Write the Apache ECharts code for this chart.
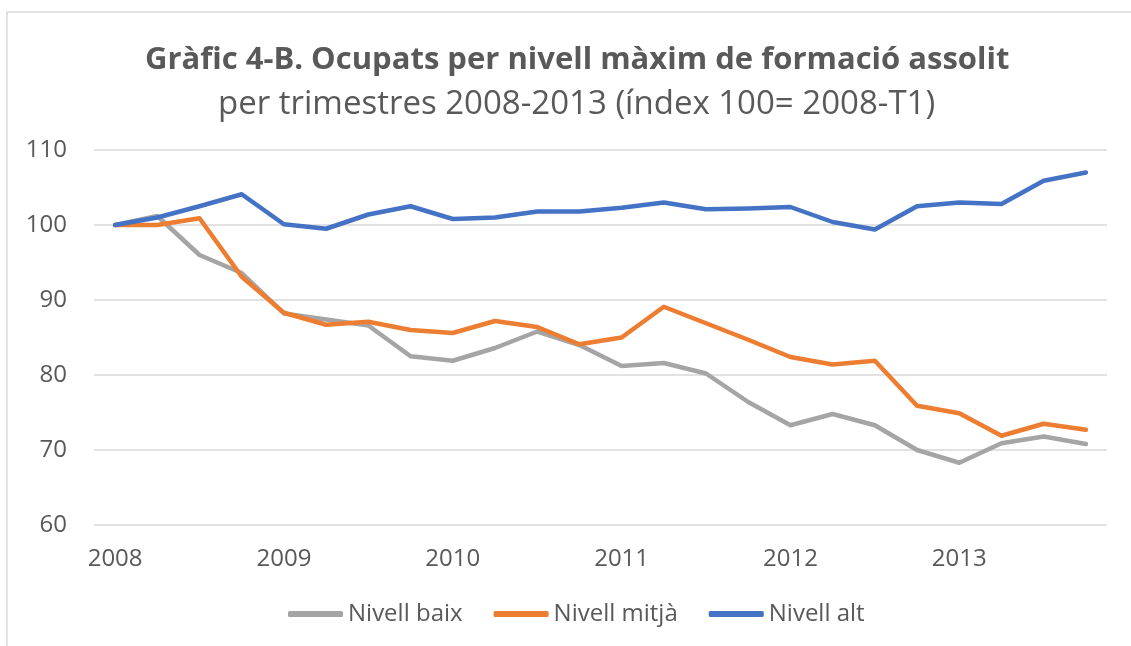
<!DOCTYPE html>
<html>
<head>
<meta charset="utf-8">
<script src="https://cdn.jsdelivr.net/npm/echarts@6/dist/echarts.min.js"></script>
<style>
  html, body { margin: 0; padding: 0; background: #fff; }
  #chart { width: 1131px; height: 646px; }
</style>
</head>
<body>
<div id="chart"></div>
<script>
const quarters = [
  '2008-T1', '2008-T2', '2008-T3', '2008-T4',
  '2009-T1', '2009-T2', '2009-T3', '2009-T4',
  '2010-T1', '2010-T2', '2010-T3', '2010-T4',
  '2011-T1', '2011-T2', '2011-T3', '2011-T4',
  '2012-T1', '2012-T2', '2012-T3', '2012-T4',
  '2013-T1', '2013-T2', '2013-T3', '2013-T4'
];

const nivellBaix = [
  100, 101.2, 96.0, 93.6, 88.2, 87.4, 86.6, 82.5,
  81.9, 83.6, 85.8, 84.0, 81.2, 81.6, 80.2, 76.4,
  73.3, 74.8, 73.3, 70.0, 68.3, 70.9, 71.8, 70.8
];

const nivellMitja = [
  100, 100.0, 100.9, 93.1, 88.3, 86.7, 87.1, 86.0,
  85.6, 87.2, 86.4, 84.1, 85.0, 89.1, 86.9, 84.7,
  82.4, 81.4, 81.9, 75.9, 74.9, 71.9, 73.5, 72.7
];

const nivellAlt = [
  100, 101.0, 102.5, 104.1, 100.1, 99.5, 101.4, 102.5,
  100.8, 101.0, 101.8, 101.8, 102.3, 103.0, 102.1, 102.2,
  102.4, 100.4, 99.4, 102.5, 103.0, 102.8, 105.9, 107.0
];

const yTicks = [60, 70, 80, 90, 100, 110];

const colors = {
  baix: '#a5a5a5',
  mitja: '#ed7d31',
  alt: '#4472c4'
};

const font = '"Open Sans", "Noto Sans", sans-serif';
const textColor = '#595959';

const chart = echarts.init(document.getElementById('chart'));

const lineSeries = (name, data, color) => ({
  name: name,
  type: 'line',
  data: data,
  symbol: 'none',
  smooth: false,
  lineStyle: { color: color, width: 4.5, cap: 'round', join: 'round' },
  itemStyle: { color: color }
});

const option = {
  animation: false,
  backgroundColor: '#fff',
  graphic: [{
    type: 'rect',
    shape: { x: 7, y: 12, width: 1140, height: 650 },
    style: { fill: 'none', stroke: '#d9d9d9', lineWidth: 1.5 },
    silent: true
  }],
  title: [
    {
      text: 'Gràfic 4-B. Ocupats per nivell màxim de formació assolit',
      left: 140,
      top: 40,
      textStyle: { fontFamily: font, fontSize: 31, fontWeight: 'bold', color: textColor }
    },
    {
      text: 'per trimestres 2008-2013 (índex 100= 2008-T1)',
      left: 213,
      top: 83,
      textStyle: { fontFamily: font, fontSize: 33, fontWeight: 'normal', color: textColor }
    }
  ],
  legend: {
    top: 597,
    left: 283,
    itemWidth: 55,
    itemHeight: 6,
    itemGap: 31,
    icon: 'roundRect',
    textStyle: { fontFamily: font, fontSize: 24, color: textColor },
    data: ['Nivell baix', 'Nivell mitjà', 'Nivell alt']
  },
  grid: { left: 94, right: 24, top: 150, bottom: 121 },
  xAxis: {
    type: 'category',
    data: quarters,
    boundaryGap: true,
    axisLine: { show: false },
    axisTick: { show: false },
    axisLabel: {
      interval: 3,
      margin: 22,
      fontFamily: font,
      fontSize: 24,
      color: textColor,
      formatter: (v) => v.split('-')[0]
    }
  },
  yAxis: {
    type: 'value',
    min: yTicks[0],
    max: yTicks[yTicks.length - 1],
    interval: 10,
    axisLine: { show: false },
    axisTick: { show: false },
    axisLabel: { margin: 27, fontFamily: font, fontSize: 24, color: textColor },
    splitLine: { lineStyle: { color: '#d9d9d9', width: 1.5 } }
  },
  series: [
    lineSeries('Nivell baix', nivellBaix, colors.baix),
    lineSeries('Nivell mitjà', nivellMitja, colors.mitja),
    lineSeries('Nivell alt', nivellAlt, colors.alt)
  ]
};

chart.setOption(option);
</script>
</body>
</html>
